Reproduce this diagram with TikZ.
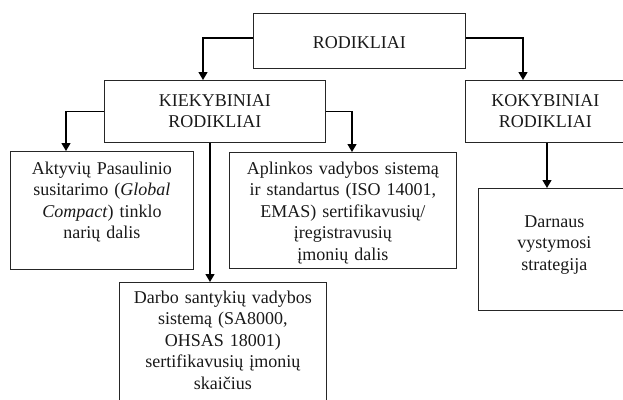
\documentclass[tikz,border=0pt]{standalone}
\usepackage{fontspec}
\setmainfont{Liberation Serif}
\usetikzlibrary{arrows.meta}

\tikzset{
  rodbox/.style={draw=black!85, line width=0.9pt, anchor=north west, align=center,
    inner sep=0pt, font=\fontsize{18}{21.5}\selectfont, text=black!90},
  rodarrow/.style={line width=1.3pt, -{Triangle[length=8pt,width=9pt]}}
}

\begin{document}
\begin{tikzpicture}[x=1pt, y=-1pt]
\useasboundingbox (0,0) rectangle (623,399);

\node[rodbox, text width=212pt, text height=35pt, text depth=20pt] (Rod) at (253,13) {RODIKLIAI};

\node[rodbox, text width=221pt, text height=26pt, text depth=36pt] (RodKiek) at (104,80) {KIEKYBINIAI\\RODIKLIAI};
\node[rodbox, text width=160pt, text height=26pt, text depth=36pt] (RodKok) at (465,80) {KOKYBINIAI\\RODIKLIAI};
\draw[rodarrow] ([yshift=3pt]Rod.west) -| ([xshift=99pt]RodKiek.north west);
\draw[rodarrow] ([yshift=3pt]Rod.east) -| ([xshift=58pt]RodKok.north west);

\node[rodbox, text width=183pt, text height=23pt, text depth=95pt] (RodKiekAkt) at (10,151) {Aktyvių Pasaulinio\\susitarimo (\textit{Global}\\\textit{Compact}) tinklo\\narių dalis};
\node[rodbox, text width=227pt, text height=22pt, text depth=94pt] (RodKiekApl) at (229,152) {Aplinkos vadybos sistemą\\ir standartus (ISO 14001,\\EMAS) sertifikavusių/\\įregistravusių\\įmonių dalis};
\node[rodbox, text width=207pt, text height=21pt, text depth=102pt] (RodKiekDarb) at (119,282) {Darbo santykių vadybos\\sistemą (SA8000,\\OHSAS 18001)\\sertifikavusių įmonių\\skaičius};
\draw[rodarrow] (RodKiek.west) -| ([xshift=56pt]RodKiekAkt.north west);
\draw[rodarrow] (RodKiek.east) -| ([xshift=123pt]RodKiekApl.north west);
\draw[rodarrow] ([xshift=106pt]RodKiek.south west) -- ([xshift=91pt]RodKiekDarb.north west);

\node[rodbox, text width=152pt, text height=39pt, text depth=83pt] (RodKokDarn) at (478,188) {Darnaus\\vystymosi\\strategija};
\draw[rodarrow] ([xshift=82pt]RodKok.south west) -- ([xshift=69pt]RodKokDarn.north west);

\end{tikzpicture}
\end{document}
